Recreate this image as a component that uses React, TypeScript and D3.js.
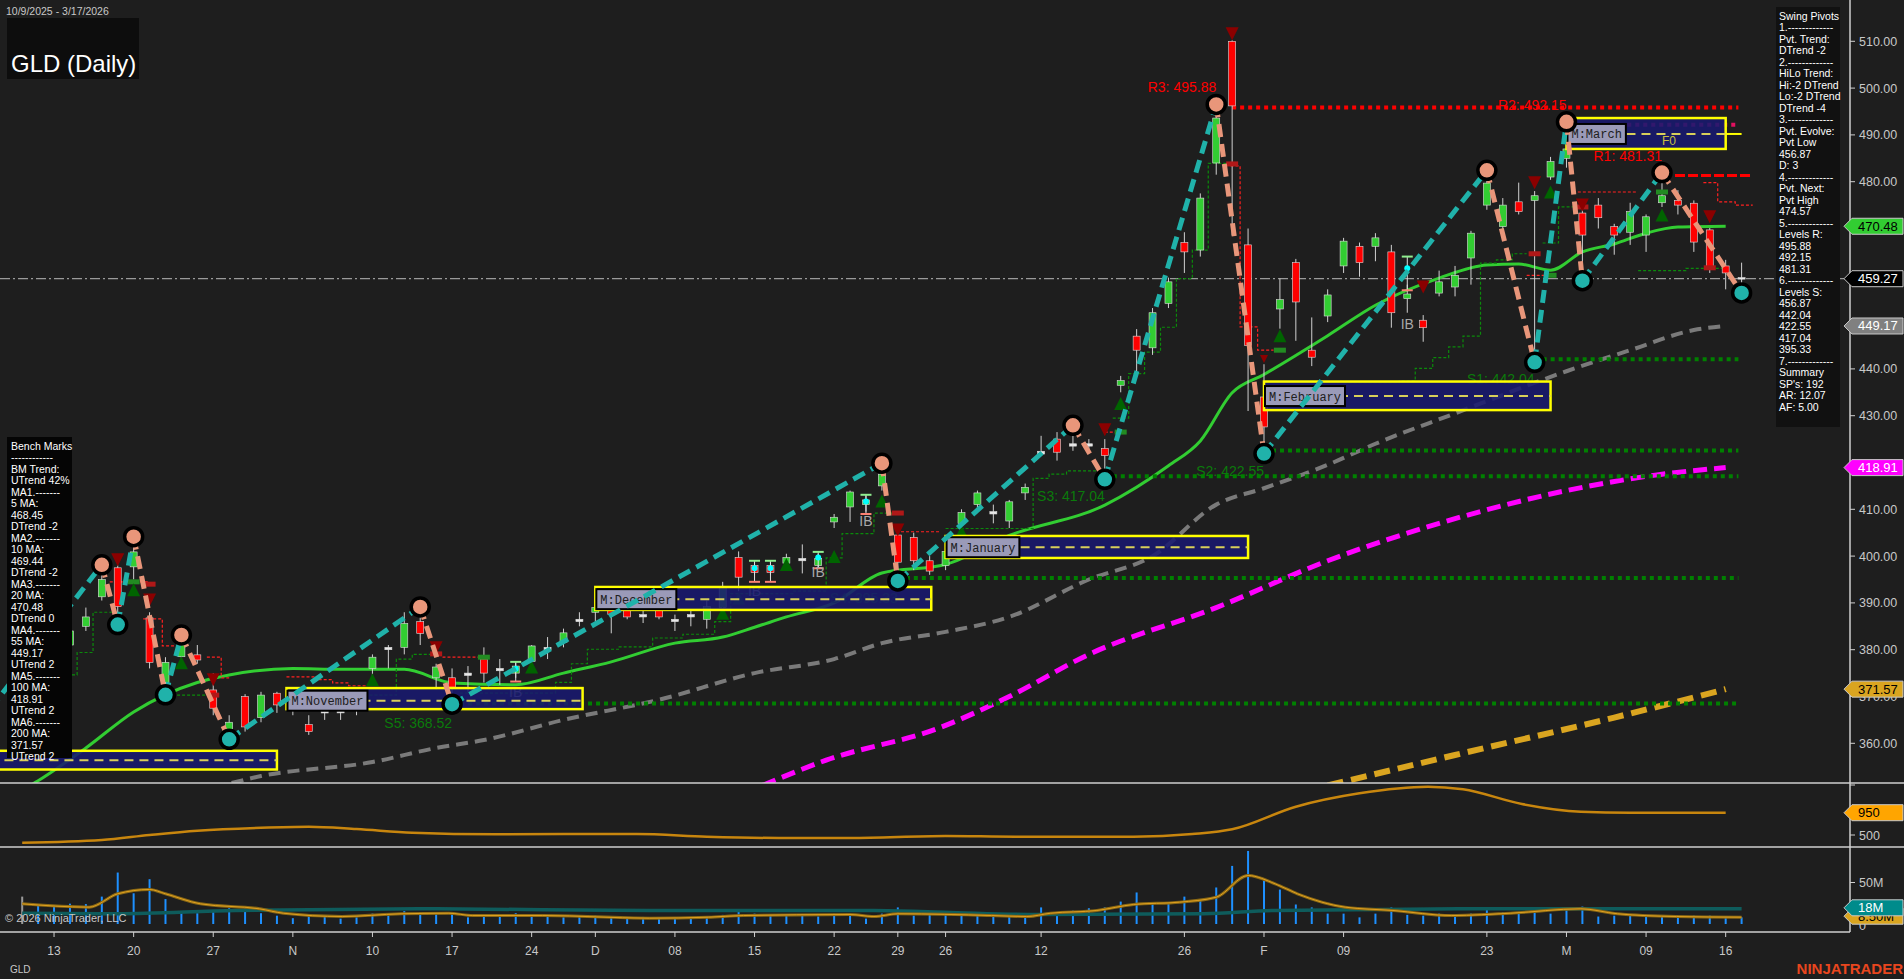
import React from "react";
import * as d3 from "d3";

// daily bars 10/9/2025 .. 3/17/2026 (index 0..108)
const opens = [368,372,376.5,381,385,391.3,397.5,397.7,386.8,373,378.5,378.9,371.4,363,370,365.5,370.7,368,364,366.5,366.5,368,376,380,380.5,386,374,374,374.5,378,375.5,375,377.5,380,381.5,386,388,389.5,389,387,389,386,387,386.5,389,399.7,398,398,398.5,399,398,407.3,410.5,411,415,404.5,404,399,398,407,411,409,407.5,413.5,421.8,425,423.5,424,423,436.5,447,444.5,454,467,465.4,484,510,466.5,434,452.8,462.7,444,451.3,462,466.2,466.2,465,455,450.4,456.2,457.5,463.7,475,470.4,475.7,476,481,485,473.3,475,470.4,469.2,468.6,475.5,476,475.4,469.7,462,459.5];
const highs = [373,377.5,382,386,389,397.5,398,403.5,388,378.4,382.5,381,375,366,370.5,371,371,370,366,368.5,368.5,371,379,381,388,388.5,377,376,376.5,380.5,378,377.5,381,382.7,384.5,388,391,391,392,388.5,391,387.5,388.5,390.5,394.5,401,399,399,400.5,402.5,400.5,409,414,413,419.2,405,405,400,403,410,414,411,412,415.5,425.7,426.5,427.3,425,425,438.5,448.5,453,459.5,469.2,477.5,495.88,510.2,470,441,459.3,463.5,451,457,468,467,469,466.5,458,451.5,461,462,469.5,481.8,476.5,479.8,478,485.3,492.15,476,476.5,471,475.5,473,481.31,478.2,476,470.1,463.3,462.7];
const lows = [367,371,375.5,379.5,384,390.5,386,395,376,371,377,377,366,361.5,362.5,364.5,366.5,366,361.8,365,365,366,374,376,379,381,371.5,369,371,373,372.5,374,376,378,380.5,385,386,383.5,386.5,385.7,386.5,384,385,384.5,387.5,392.5,396,396,398,396.3,397.5,406,407.3,409.5,414,395.33,397,396,397,406,410,407,406,412,421.5,420.4,422.5,422.5,417.04,435,439,443,453,460.5,464,481.5,468.5,431,422.55,448.6,446,440.6,450,460.5,459.7,463,448.8,452,445.8,455.5,455.5,458,474,469.5,473,442.04,480.4,483,459.5,470,464.4,466.5,465,474.6,473,465,460.5,457,456.87];
const closes = [372,376.5,381,384,387,395,389.2,400.9,377.3,377.3,381,377.8,367.5,364.5,363.5,370.3,368.2,367,362.5,366.8,367,369,378.4,380.5,385.6,383.5,376.3,372,375,375,376,376.5,380.8,380.5,383.6,386.5,389,387.5,387,387.5,387,386.5,387.5,389.2,393.5,395.5,396.5,396.5,399.7,399.5,399.5,408.3,413.7,412,417.5,398.7,399,396.8,401,409.3,413.5,409.5,411.6,414.7,422.4,422.2,424,423.5,421.5,437.5,444,452,458.6,465,476.5,493.6,496.2,445,427.6,454.8,454.3,442.5,455.8,467.3,462.7,468,452,456,448.8,458.6,460,469,479.7,475,473.6,477,484.3,487,468.6,472.3,468.6,473.6,472.5,477,475,467.1,461.8,460.5,459.27];
// volume, millions
const volumes = [33,23.5,22,24.5,24,33,62,37,54,30,13,13,16,19,18.5,13,10,7,10,10,6.5,8,12.5,10,15.5,14,13,14,8,10,10,13,9,10,8,8.5,10,8,7.5,8.5,6.5,6.5,7.5,8,11,16,12.5,10,10,11,9,12.5,13,6.5,12.5,20,10,12.5,14,12.5,10,8.5,10,12.5,20,14,16,19,20,27,38,24.5,26.5,33,28,44,70,88,52,41.5,23.5,20,12.5,12.5,8,12.5,20,11,10,12.5,8.5,12.5,18.5,14,12.5,14,12.5,18.5,21,9,10,10,9,8.5,9,10,10,8.5,8];

const xTickIdx = [2,7,12,17,22,27,32,36,41,46,51,55,58,64,73,78,83,92,97,102,107];
const xTickLabels = ["13","20","27","N","10","17","24","D","08","15","22","29","26","12","26","F","09","23","M","09","16"];

// moving averages: [bar, value]
const ma20 = [[0,350],[1,352],[4,359],[7,366.7],[11,373],[13,374.6],[17,376],[20,375.8],[24,375.8],[27,372.9],[31,372.5],[34,375],[37,377.4],[41,381.4],[44,382.7],[46,384.8],[48,387],[51,390],[54,396.4],[58,398.2],[62,404.4],[68,410.9],[72,419.3],[74,424.6],[76,434.9],[78,438.8],[82,447.1],[85,453.6],[89,459.4],[92,462.2],[94,462.4],[96,461.1],[98,465],[100,466.7],[102,469],[104,470.3],[107,470.48]];
const ma55 = [[12,350.5],[15,353],[22,356],[26,359],[29,360.7],[34,365],[40,369.3],[46,375],[51,378],[54,381.4],[58,383.8],[62,387],[67,395],[71,400],[75,411],[78,414.5],[82,419.5],[85,424],[90,430.5],[97,439.5],[101,444],[105,448.3],[107,449.17]];
const ma100 = [[46.5,351],[50.5,356.4],[57.6,363.3],[62,370],[67,379],[75,389],[82,399],[90,408],[97,414],[103,417.5],[107,418.91]];
const ma200 = [[82,351],[90,357.5],[100,365.5],[107,371.57]];

// lower panels
const oscLine = [[0,343],[5,398],[8,500],[11,588],[15,649],[18,670],[21,623],[24.5,547],[29.7,514],[34,520],[38.6,520],[43,466],[47.5,439],[52,439],[58,480],[62.4,466],[69.8,466],[73.5,520],[76,616],[80,1079],[84,1353],[88.3,1488],[90.5,1435],[94.2,1134],[97.9,976],[101,956],[107,956]];
const volFast = [[0,24.3],[4.2,20.3],[6,36.4],[8,41.6],[9,36.4],[11.2,24.3],[14.9,18.3],[16.4,13],[20.1,9],[23.8,12.3],[26.8,13],[28.3,10.2],[32.7,10.2],[39.4,7],[43.1,8.2],[45.3,10.2],[52,11.4],[53.5,9],[55,12.3],[60.9,10.2],[63.1,9],[64.6,13],[67.5,16.3],[69.8,23.5],[72.7,26.3],[75,32.3],[77,58.4],[78.7,48.4],[80.1,36.4],[83.1,20.3],[86.1,16.3],[89.8,10.2],[93.5,13],[97.9,18.3],[100.2,12.3],[103.9,9],[108,8.2]];
const volSlow = [[0,13],[6,12.3],[13.4,16.3],[26,18.3],[39.4,16.3],[53.5,16.3],[57.9,14.2],[63.8,11.4],[74.2,12.3],[78.7,16.3],[91.3,18.3],[108,18.3]];

// swing pivots
const pivotIdx = [-2,5,6,7,9,10,13,25,27,54,55,66,68,75,78,92,95,97,98,103,108];
const pivotPrice = [368,397.5,386,403.5,371,382.5,361.5,388.5,369,419.2,395.33,427.3,417.04,495.88,422.55,481.8,442.04,492.15,459.5,481.31,456.87];

// pivot levels
const levelNames = ["R3","R2","R1","S1","S2","S3","S4","S5"];
const levelValues = [495.88,492.15,481.31,442.04,422.55,417.04,395.33,368.52];
const levelFrom = [76,97.3,103,95,78,68,55,27];
const levelLabelAt = [75,97,103,95,78,68,55,27];

// monthly boxes
const monthNames = ["","M:November","M:December","M:January","M:February","M:March"];
const monthStart = [-3,16.6,36,58,78,97];
const monthEnd = [16,35.2,57.1,77,96,107];
const monthHigh = [358.4,371.8,393.4,404.3,437.3,493.6];
const monthLow = [354.4,367.3,388.5,399.6,431.2,487];
const monthMid = [356.4,369.1,390.8,401.9,434.2,490.2];

// signals
const sellIdx = [6,8,12,26,55,68,76,78,88,95,98,106];
const sellPrice = [399.2,390.6,373.6,380.4,405.6,427,511.6,442.1,457.5,479.8,475,472.5];
const buyIdx = [7,10,22,32,44,45,48,51,54,59,69,79,96,103];
const buyPrice = [392.8,377.2,373.6,376.3,387.8,391,398.2,399.9,411.8,405.2,432.6,447.1,477.8,472.9];
const greenMarkIdx = [7,29,69,79,96,103];
const greenMarkPrice = [394.5,378.4,426.5,444,460,477.8];
const redMarkIdx = [8,12,26,55,76,95,98,106];
const redMarkPrice = [394,370.3,379.1,409.2,483.8,464.6,474.6,461.6];

// inside bars
const ibIdx = [31,46,47,50,53,87];
const ibTop = [377.4,399,399,400.9,413.1,464];
const ibBottom = [373.2,394.5,394.5,397.4,409,456.8];
const ibText = [371,392.5,0,396.5,407.5,449.5];

// trailing steps
const greenSteps = [
  [[2.5,374.6],[3.45,379.4],[4.45,388],[5.8,388]],
  [[9.1,370.3],[12,370.3]],
  [[21.5,370.3],[23.5,378],[24.5,379],[26,379]],
  [[27.5,370.7],[33.5,373],[34.5,377],[35.5,380.1],[37.5,380.6],[39.6,382.5],[41.5,383.3],[43.5,386],[44.5,392],[48.4,392.5],[50.5,399.6],[51.5,404.8],[53.5,409.2],[55,409.2]],
  [[58,405.9],[63.5,416.6],[64.5,417.5],[65.6,418.2],[68,418.2]],
  [[68.5,429.5],[69.5,439],[70.5,443.6],[71.5,448.9],[72.5,459.3],[73.5,465.4],[74.5,483.9],[76,483.9]],
  [[83,437],[86.5,437.4],[87.5,440.1],[88.6,442.4],[89.6,444.7],[90.5,447],[91.6,462.6],[92.6,463.3],[93.6,464.6],[94.5,464.6]],
  [[95.5,466.9],[96.5,474.6],[97.4,474.6]],
  [[101.5,461],[104.5,461.5],[107,461.5]],
];
const redSteps = [
  [[5.5,394.5],[8,394.5]],
  [[7.6,386.6],[8.8,380.8],[10,380.8]],
  [[11.6,378.4],[12.5,374],[13,374]],
  [[16.6,374.2],[18.5,373.6],[19.5,372.9],[20.5,372.3],[21.7,372.3]],
  [[26.4,378.4],[29,378.4]],
  [[55.2,405.2],[57.6,405.2]],
  [[68,426.5],[68.9,426.5]],
  [[75.9,483.4],[76.5,449],[77.6,444],[78.6,444]],
  [[94.5,460],[95.7,460]],
  [[97.4,477.8],[101.4,477.8]],
  [[105.6,479.8],[106.5,475.7],[107.6,475],[108.7,475]],
];

const pivotText = ["Swing Pivots","1.-------------","Pvt. Trend:","DTrend -2","2.-------------","HiLo Trend:","Hi:-2 DTrend","Lo:-2 DTrend","DTrend -4","3.-------------","Pvt. Evolve:","Pvt Low","456.87","D: 3","4.-------------","Pvt. Next:","Pvt High","474.57","5.-------------","Levels R:","495.88","492.15","481.31","6.-------------","Levels S:","456.87","442.04","422.55","417.04","395.33","7.-------------","Summary","SP's: 192","AR: 12.07","AF: 5.00"];
const benchText = ["Bench Marks","------------","BM Trend:","UTrend 42%","MA1.-------","5 MA:","468.45","DTrend -2","MA2.-------","10 MA:","469.44","DTrend -2","MA3.-------","20 MA:","470.48","DTrend 0","MA4.-------","55 MA:","449.17","UTrend 2","MA5.-------","100 MA:","418.91","UTrend 2","MA6.-------","200 MA:","371.57","UTrend 2"];

// right-axis value badges
const badgeValues = [470.48, 459.27, 449.17, 418.91, 371.57];
const badgeFill = ["#32cd32", "#000000", "#808080", "#ff00ff", "#daa520"];
const badgeInk = ["#000", "#fff", "#fff", "#fff", "#000"];

const FONT = "Arial, 'Liberation Sans', sans-serif";
const MONO = "'Liberation Mono', 'DejaVu Sans Mono', monospace";
const AX = 1850;
const LAST = 459.27;

const x = d3.scaleLinear().domain([0, 108]).range([22.2, 1741.6]);
const y = d3.scaleLinear().domain([360, 510]).range([743.3, 41.3]);
const yOsc = d3.scaleLinear().domain([500, 950]).range([835, 813]);
const yVol = d3.scaleLinear().domain([0, 50]).range([924, 882.5]);

const maPath = d3.line<number[]>().x((d) => x(d[0])).y((d) => y(d[1])).curve(d3.curveMonotoneX);
const stepPath = d3.line<number[]>().x((d) => x(d[0])).y((d) => y(d[1])).curve(d3.curveStepAfter);
const oscPath = d3.line<number[]>().x((d) => x(d[0])).y((d) => yOsc(d[1])).curve(d3.curveMonotoneX);
const volPath = d3.line<number[]>().x((d) => x(d[0])).y((d) => yVol(d[1])).curve(d3.curveMonotoneX);

const Badge = ({ cy, text, bg, fg, stroke = "#c8c8c8" }: { cy: number; text: string; bg: string; fg: string; stroke?: string }) => (
  <g>
    <polygon
      points={`${AX - 6},${cy} ${AX + 2},${cy - 8} 1903,${cy - 8} 1903,${cy + 8} ${AX + 2},${cy + 8}`}
      fill={bg}
      stroke={stroke}
      strokeWidth={1}
    />
    <text x={AX + 8} y={cy + 4.5} fill={fg} fontSize={13} fontFamily={FONT}>
      {text}
    </text>
  </g>
);

const App = () => {
  const pivots = pivotIdx.map((i, k) => {
    const prev = pivotPrice[k - 1] ?? 0;
    const isHigh = k === 0 ? false : pivotPrice[k] > prev;
    return { i, p: pivotPrice[k], isHigh, cx: x(i), cy: y(pivotPrice[k]) + (isHigh ? -3 : 3) };
  });

  // tick labels fully hidden by a badge are not drawn (the badge covers them)
  const priceTicks = y.ticks(15).filter((t) => !badgeValues.some((b) => Math.abs(y(b) - y(t)) < 5.5));

  return (
    <svg width={1904} height={979} style={{ position: "absolute", left: 0, top: 0, background: "#1e1e1e" }}>
      <rect x={0} y={0} width={1904} height={979} fill="#1e1e1e" />
      <defs>
        <clipPath id="pricePanel">
          <rect x={0} y={0} width={AX} height={783} />
        </clipPath>
      </defs>

      {/* price panel */}
      <g clipPath="url(#pricePanel)">
        <line x1={0} x2={AX} y1={y(LAST)} y2={y(LAST)} stroke="#9a9a9a" strokeWidth={1.2} strokeDasharray="10 3 2 3" />

        {/* moving averages */}
        <path d={maPath(ma200) ?? ""} fill="none" stroke="#daa520" strokeWidth={6} strokeDasharray="16 8" />
        <path d={maPath(ma100) ?? ""} fill="none" stroke="#ff00ff" strokeWidth={5} strokeDasharray="14 7" />
        <path d={maPath(ma55) ?? ""} fill="none" stroke="#7a7a7a" strokeWidth={4} strokeDasharray="12 7" />
        <path d={maPath(ma20) ?? ""} fill="none" stroke="#32cd32" strokeWidth={3} />

        {/* trailing steps */}
        {greenSteps.map((s, k) => (
          <path key={"gs" + k} d={stepPath(s) ?? ""} fill="none" stroke="#0b8a0b" strokeWidth={1.2} strokeDasharray="3 2" />
        ))}
        {redSteps.map((s, k) => (
          <path key={"rs" + k} d={stepPath(s) ?? ""} fill="none" stroke="#ff2020" strokeWidth={1.2} strokeDasharray="3 2" />
        ))}

        {/* pivot levels */}
        {levelValues.map((v, k) => {
          const isR = k < 3;
          const stroke = k === 1 ? "#e0115f" : isR ? "#ff0000" : "#008000";
          const end = k === 2 ? 108.7 : 107.8;
          return (
            <g key={"lv" + k}>
              <line
                x1={x(levelFrom[k])}
                x2={x(end)}
                y1={y(v)}
                y2={y(v)}
                stroke={stroke}
                strokeWidth={k === 2 ? 3 : 4}
                strokeDasharray={k === 2 ? "10 3" : "4 4"}
              />
              <text
                x={x(levelLabelAt[k])}
                y={isR ? y(v) - 15 : y(v) + 25}
                textAnchor="end"
                fill={isR ? "#ff0000" : "#0b7a0b"}
                fontSize={14}
                fontFamily={FONT}
              >
                {`${levelNames[k]}: ${v.toFixed(2)}`}
              </text>
            </g>
          );
        })}

        {/* candles */}
        {opens.map((o, i) => {
          const c = closes[i];
          const top = y(Math.max(o, c));
          const h = Math.max(1.5, Math.abs(y(o) - y(c)));
          const fill = c - o > 0.6 ? "#32cd32" : o - c > 0.6 ? "#ff0000" : "#e8e8e8";
          return (
            <g key={"c" + i}>
              <line x1={x(i)} x2={x(i)} y1={y(highs[i])} y2={y(lows[i])} stroke="#d0d0d0" strokeWidth={1} />
              <rect x={x(i) - 3.5} y={top} width={7} height={h} fill={fill} stroke="#dcdcdc" strokeWidth={0.6} />
            </g>
          );
        })}

        {/* inside bar markers */}
        {ibIdx.map((i, k) => (
          <g key={"ib" + k}>
            <line x1={x(i)} x2={x(i)} y1={y(ibTop[k])} y2={y(ibBottom[k])} stroke="#e0e0e0" strokeWidth={1} />
            <line x1={x(i) - 5.5} x2={x(i) + 5.5} y1={y(ibTop[k])} y2={y(ibTop[k])} stroke="#90ee90" strokeWidth={2} />
            <line x1={x(i) - 5.5} x2={x(i) + 5.5} y1={y(ibBottom[k])} y2={y(ibBottom[k])} stroke="#fa8072" strokeWidth={2} />
            <circle cx={x(i)} cy={y(ibTop[k]) + (y(ibBottom[k]) - y(ibTop[k])) * 0.35} r={3} fill="#00ffff" />
            {ibText[k] > 0 && (
              <text x={x(i)} y={y(ibText[k]) + 5} textAnchor="middle" fill="#a8a8a8" fontSize={14} fontFamily={FONT}>
                IB
              </text>
            )}
          </g>
        ))}

        {/* signal markers */}
        {greenMarkIdx.map((i, k) => (
          <rect key={"gm" + k} x={x(i) - 6} y={y(greenMarkPrice[k]) - 2.5} width={12} height={5} fill="#228b22" />
        ))}
        {redMarkIdx.map((i, k) => (
          <rect key={"rm" + k} x={x(i) - 6} y={y(redMarkPrice[k]) - 2.5} width={12} height={5} fill="#b01818" />
        ))}
        {sellIdx.map((i, k) => {
          const cx = x(i);
          const cy = y(sellPrice[k]);
          const s = i === 78 ? 4 : 6.5;
          return <polygon key={"sd" + k} points={`${cx - s},${cy - s} ${cx + s},${cy - s} ${cx},${cy + s}`} fill="#8b0000" />;
        })}
        {buyIdx.map((i, k) => {
          const cx = x(i);
          const cy = y(buyPrice[k]);
          return <polygon key={"bu" + k} points={`${cx - 6.5},${cy + 6.5} ${cx + 6.5},${cy + 6.5} ${cx},${cy - 6.5}`} fill="#006400" />;
        })}

        {/* monthly boxes */}
        {monthNames.map((m, k) => {
          const x0 = x(monthStart[k]);
          const x1 = x(monthEnd[k]);
          const yTop = y(monthHigh[k]);
          const yBot = y(monthLow[k]);
          const ym = y(monthMid[k]);
          const lw = m.length * 7.2 + 8;
          return (
            <g key={"mb" + k}>
              <rect x={x0} y={yTop} width={x1 - x0} height={yBot - yTop} fill="#191970" fillOpacity={0.88} stroke="#ffff00" strokeWidth={2.5} />
              <line x1={x0} x2={x1} y1={ym} y2={ym} stroke="#d8cf5a" strokeWidth={2} strokeDasharray="9 6" />
              {m && (
                <g>
                  <rect x={x0 + 1} y={ym - 10} width={lw} height={20} fill="#9a9ab8" stroke="#000" strokeWidth={2} />
                  <text x={x0 + 5} y={ym + 4.5} fill="#202020" fontSize={12} fontFamily={MONO}>
                    {m}
                  </text>
                </g>
              )}
            </g>
          );
        })}
        <line x1={x(107)} x2={x(108)} y1={y(490.2)} y2={y(490.2)} stroke="#ffff00" strokeWidth={2} />
        <text x={x(103)} y={y(490.2) + 11} fill="#c8c040" fontSize={12} fontFamily={FONT}>
          F0
        </text>

        {/* swing zigzag */}
        {pivots.map((pv, k) => {
          if (k === 0) return null;
          const a = pivots[k - 1];
          return (
            <line
              key={"zz" + k}
              x1={a.cx}
              y1={a.cy}
              x2={pv.cx}
              y2={pv.cy}
              stroke={pv.isHigh ? "#20b2aa" : "#e9967a"}
              strokeWidth={5}
              strokeDasharray="13 7"
            />
          );
        })}
        {pivots.map((pv, k) =>
          k === 0 ? null : (
            <circle
              key={"pc" + k}
              cx={pv.cx}
              cy={pv.cy}
              r={9}
              fill={pv.isHigh ? "#e9967a" : "#20b2aa"}
              stroke="#000"
              strokeWidth={3.5}
            />
          )
        )}
      </g>

      {/* info panels */}
      <rect x={7} y={437} width={65} height={321} fill="#050505" />
      {benchText.map((t, k) => (
        <text key={"bt" + k} x={11} y={449.5 + k * 11.5} fill="#ffffff" fontSize={10.5} fontFamily={FONT}>
          {t}
        </text>
      ))}
      <rect x={1776} y={7} width={64} height={420} fill="#111111" />
      {pivotText.map((t, k) => (
        <text key={"pt" + k} x={1779} y={19.5 + k * 11.5} fill="#ffffff" fontSize={10.5} fontFamily={FONT}>
          {t}
        </text>
      ))}

      {/* title */}
      <text x={6} y={15} fill="#c8c8c8" fontSize={10.5} fontFamily={FONT}>
        10/9/2025 - 3/17/2026
      </text>
      <rect x={7} y={18} width={132} height={61} fill="#0d0d0d" />
      <text x={11} y={72} fill="#ffffff" fontSize={24} fontFamily={FONT}>
        GLD (Daily)
      </text>

      {/* oscillator panel */}
      <path d={oscPath(oscLine) ?? ""} fill="none" stroke="#c8860e" strokeWidth={2.5} />

      {/* volume panel */}
      {volumes.map((v, i) => (
        <line key={"v" + i} x1={x(i)} x2={x(i)} y1={yVol(0)} y2={yVol(v)} stroke={i === 0 ? "#9a9a9a" : "#1e90ff"} strokeWidth={2} />
      ))}
      <path d={volPath(volSlow) ?? ""} fill="none" stroke="#0e5c5c" strokeWidth={3.5} />
      <path d={volPath(volFast) ?? ""} fill="none" stroke="#8b6914" strokeWidth={3} />
      <path d={volPath(volFast) ?? ""} fill="none" stroke="#e0a020" strokeWidth={1} />
      <text x={5} y={922} fill="#c8c8c8" fontSize={11} fontFamily={FONT}>
        © 2026 NinjaTrader, LLC
      </text>

      {/* separators and axes */}
      <line x1={0} x2={1904} y1={783} y2={783} stroke="#cfcfcf" strokeWidth={1.5} />
      <line x1={0} x2={1904} y1={847} y2={847} stroke="#cfcfcf" strokeWidth={1.5} />
      <line x1={0} x2={AX} y1={932} y2={932} stroke="#cfcfcf" strokeWidth={1.5} />
      <line x1={AX} x2={AX} y1={0} y2={932} stroke="#cfcfcf" strokeWidth={1.5} />

      {priceTicks.map((t) => (
        <g key={"yt" + t}>
          <line x1={AX} x2={AX + 5} y1={y(t)} y2={y(t)} stroke="#cfcfcf" />
          <text x={AX + 9} y={y(t) + 4.5} fill="#c8c8c8" fontSize={12.5} fontFamily={FONT}>
            {t.toFixed(2)}
          </text>
        </g>
      ))}
      <line x1={AX} x2={AX + 5} y1={785} y2={785} stroke="#cfcfcf" />
      <line x1={AX} x2={AX + 5} y1={yOsc(500)} y2={yOsc(500)} stroke="#cfcfcf" />
      <text x={AX + 9} y={yOsc(500) + 4.5} fill="#c8c8c8" fontSize={12.5} fontFamily={FONT}>
        500
      </text>
      <line x1={AX} x2={AX + 5} y1={yVol(50)} y2={yVol(50)} stroke="#cfcfcf" />
      <text x={AX + 9} y={yVol(50) + 4.5} fill="#c8c8c8" fontSize={12.5} fontFamily={FONT}>
        50M
      </text>
      <text x={AX + 9} y={yVol(0) + 6} fill="#c8c8c8" fontSize={12.5} fontFamily={FONT}>
        0
      </text>

      {xTickIdx.map((i, k) => (
        <g key={"xt" + k}>
          <line x1={x(i)} x2={x(i)} y1={932} y2={937} stroke="#cfcfcf" />
          <text x={x(i)} y={955} textAnchor="middle" fill="#c8c8c8" fontSize={12} fontFamily={FONT}>
            {xTickLabels[k]}
          </text>
        </g>
      ))}

      {/* value badges */}
      {badgeValues.map((b, k) => (
        <Badge key={"bd" + k} cy={y(b)} text={b.toFixed(2)} bg={badgeFill[k]} fg={badgeInk[k]} />
      ))}
      <Badge cy={yOsc(956)} text="950" bg="#ffa500" fg="#000" />
      <Badge cy={yVol(8.2) - 1} text="8.50M" bg="#daa520" fg="#000" />
      <Badge cy={yVol(18.3) - 1} text="18M" bg="#008b8b" fg="#fff" />

      <text x={10} y={973} fill="#c8c8c8" fontSize={10} fontFamily={FONT}>
        GLD
      </text>
      <text x={1903} y={974} textAnchor="end" fill="#e8461e" fontSize={15} fontWeight="bold" fontFamily={FONT}>
        NINJATRADER
      </text>
    </svg>
  );
};

export default App;
